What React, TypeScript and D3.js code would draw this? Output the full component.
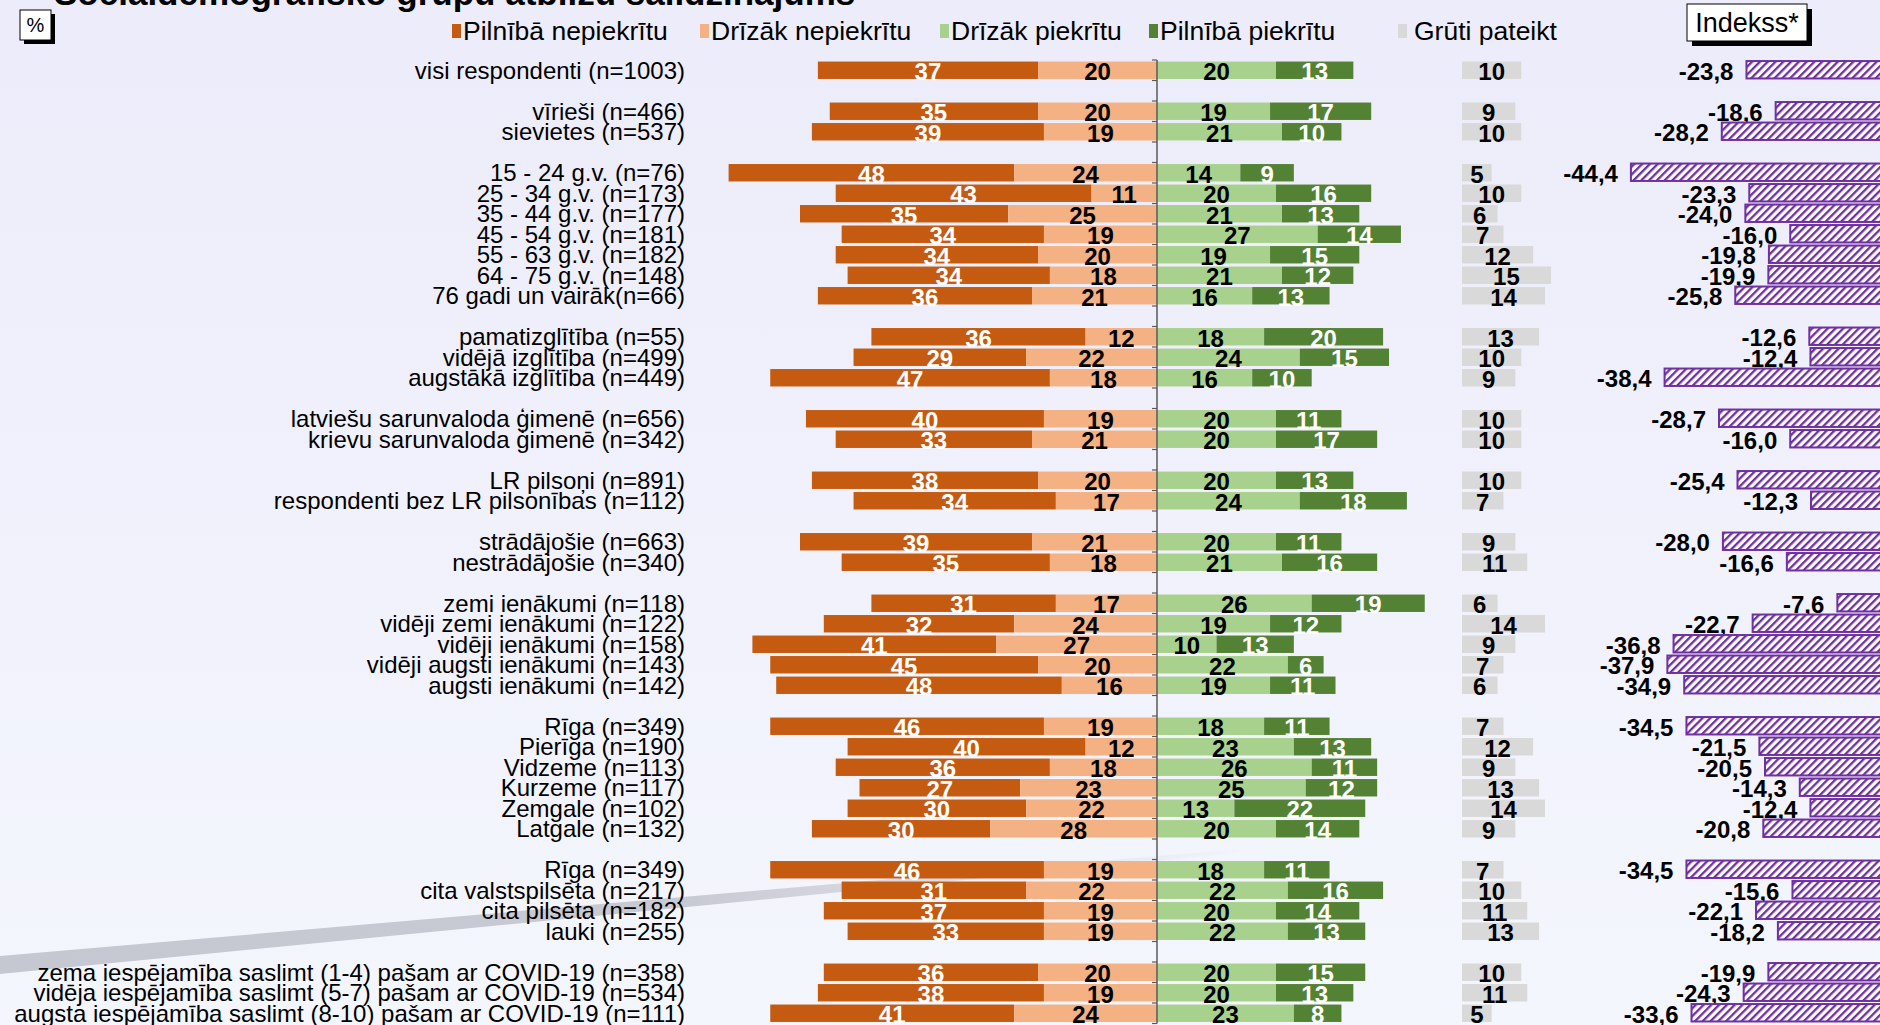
import React from "react";
import * as d3 from "d3";

const categories = [
  "visi respondenti (n=1003)",
  "vīrieši (n=466)",
  "sievietes (n=537)",
  "15 - 24 g.v. (n=76)",
  "25 - 34 g.v. (n=173)",
  "35 - 44 g.v. (n=177)",
  "45 - 54 g.v. (n=181)",
  "55 - 63 g.v. (n=182)",
  "64 - 75 g.v. (n=148)",
  "76 gadi un vairāk(n=66)",
  "pamatizglītība (n=55)",
  "vidējā izglītība (n=499)",
  "augstākā izglītība (n=449)",
  "latviešu sarunvaloda ģimenē (n=656)",
  "krievu sarunvaloda ģimenē (n=342)",
  "LR pilsoņi (n=891)",
  "respondenti bez LR pilsonības (n=112)",
  "strādājošie (n=663)",
  "nestrādājošie (n=340)",
  "zemi ienākumi (n=118)",
  "vidēji zemi ienākumi (n=122)",
  "vidēji ienākumi (n=158)",
  "vidēji augsti ienākumi (n=143)",
  "augsti ienākumi (n=142)",
  "Rīga (n=349)",
  "Pierīga (n=190)",
  "Vidzeme (n=113)",
  "Kurzeme (n=117)",
  "Zemgale (n=102)",
  "Latgale (n=132)",
  "Rīga (n=349)",
  "cita valstspilsēta (n=217)",
  "cita pilsēta (n=182)",
  "lauki (n=255)",
  "zema iespējamība saslimt (1-4) pašam ar COVID-19 (n=358)",
  "vidēja iespējamība saslimt (5-7) pašam ar COVID-19 (n=534)",
  "augsta iespējamība saslimt (8-10) pašam ar COVID-19 (n=111)",
];

const groupSizes = [1, 2, 7, 3, 2, 2, 2, 5, 6, 4, 3];

const pilnibaNepiekritu = [37, 35, 39, 48, 43, 35, 34, 34, 34, 36, 36, 29, 47, 40, 33, 38, 34, 39, 35, 31, 32, 41, 45, 48, 46, 40, 36, 27, 30, 30, 46, 31, 37, 33, 36, 38, 41];
const drizakNepiekritu = [20, 20, 19, 24, 11, 25, 19, 20, 18, 21, 12, 22, 18, 19, 21, 20, 17, 21, 18, 17, 24, 27, 20, 16, 19, 12, 18, 23, 22, 28, 19, 22, 19, 19, 20, 19, 24];
const drizakPiekritu = [20, 19, 21, 14, 20, 21, 27, 19, 21, 16, 18, 24, 16, 20, 20, 20, 24, 20, 21, 26, 19, 10, 22, 19, 18, 23, 26, 25, 13, 20, 18, 22, 20, 22, 20, 20, 23];
const pilnibaPiekritu = [13, 17, 10, 9, 16, 13, 14, 15, 12, 13, 20, 15, 10, 11, 17, 13, 18, 11, 16, 19, 12, 13, 6, 11, 11, 13, 11, 12, 22, 14, 11, 16, 14, 13, 15, 13, 8];
const grutiPateikt = [10, 9, 10, 5, 10, 6, 7, 12, 15, 14, 13, 10, 9, 10, 10, 10, 7, 9, 11, 6, 14, 9, 7, 6, 7, 12, 9, 13, 14, 9, 7, 10, 11, 13, 10, 11, 5];
const indekss = [-23.8, -18.6, -28.2, -44.4, -23.3, -24.0, -16.0, -19.8, -19.9, -25.8, -12.6, -12.4, -38.4, -28.7, -16.0, -25.4, -12.3, -28.0, -16.6, -7.6, -22.7, -36.8, -37.9, -34.9, -34.5, -21.5, -20.5, -14.3, -12.4, -20.8, -34.5, -15.6, -22.1, -18.2, -19.9, -24.3, -33.6];

const legendLabels = ["Pilnībā nepiekrītu", "Drīzāk nepiekrītu", "Drīzāk piekrītu", "Pilnībā piekrītu", "Grūti pateikt"];
const title = "Sociāldemogrāfisko grupu atbilžu salīdzinājums";

// layout / style constants
const W = 1880;
const H = 1025;
const COLORS = ["#c55a11", "#f4b183", "#a9d18e", "#548235", "#d9d9d9"];
const LABEL_COLORS = ["#ffffff", "#000000", "#000000", "#ffffff", "#000000"];
const PURPLE = "#7030a0";
const legendX = [452, 700, 940, 1149, 1398];
const FONT = "'Liberation Sans', Arial, sans-serif";

export default function App() {
  const slots: number[] = [];
  let s = 0;
  groupSizes.forEach((g, gi) => {
    for (let j = 0; j < g; j++) {
      slots.push(s);
      s++;
    }
    if (gi < groupSizes.length - 1) s++;
  });
  const nSlots = s;

  const y = d3
    .scaleBand<number>()
    .domain(d3.range(nSlots))
    .range([60, 60 + nSlots * 20.5])
    .paddingInner(0.15)
    .paddingOuter(0.075);
  const bw = y.bandwidth();

  const k = 5.95;
  const x0 = 1157;
  const x = d3.scaleLinear().domain([-100, 100]).range([x0 - 100 * k, x0 + 100 * k]);
  const xG = d3.scaleLinear().domain([0, 20]).range([1462, 1462 + 20 * 5.93]);
  const xI = d3.scaleLinear().domain([-50, 0]).range([W - 50 * 5.61, W]);

  const fmt = (v: number) => v.toFixed(1).replace(".", ",");

  const rows = categories.map((c, i) => {
    const pn = pilnibaNepiekritu[i];
    const dn = drizakNepiekritu[i];
    const dp = drizakPiekritu[i];
    const pp = pilnibaPiekritu[i];
    const segs = [
      { a: -(pn + dn), b: -dn, v: pn, c: 0 },
      { a: -dn, b: 0, v: dn, c: 1 },
      { a: 0, b: dp, v: dp, c: 2 },
      { a: dp, b: dp + pp, v: pp, c: 3 },
    ];
    return { c, i, slot: slots[i], segs, g: grutiPateikt[i], idx: indekss[i] };
  });

  const bandEdges = d3.range(nSlots + 1).map((j) => 60 + j * y.step());

  return (
    <div style={{ position: "fixed", left: 0, top: 0, width: W, height: H }}>
      <svg width={W} height={H} style={{ display: "block", fontFamily: FONT }}>
        <defs>
          <linearGradient id="bg" x1="0" y1="0" x2="0" y2="1">
            <stop offset="0" stopColor="#ececfa" />
            <stop offset="1" stopColor="#f4f6fd" />
          </linearGradient>
          <linearGradient id="band" x1="0" y1="0" x2="1" y2="0">
            <stop offset="0" stopColor="#c6c8d1" stopOpacity="1" />
            <stop offset="0.55" stopColor="#c6c8d1" stopOpacity="0.95" />
            <stop offset="1" stopColor="#c6c8d1" stopOpacity="0" />
          </linearGradient>
          <pattern id="hatch" patternUnits="userSpaceOnUse" width="5.5" height="5.5" patternTransform="rotate(45)">
            <rect width="5.5" height="5.5" fill="#ffffff" />
            <rect width="2.3" height="5.5" fill={PURPLE} />
          </pattern>
        </defs>
        <rect width={W} height={H} fill="url(#bg)" />
        <polygon points="0,956 0,974 1250,852 1250,848" fill="url(#band)" />

        <text x={54} y={5} fontSize={35} fontWeight="bold" fill="#000">
          {title}
        </text>

        <rect x={24} y={14} width={31} height={30} fill="#000" />
        <rect x={20} y={10} width={31} height={30} fill="#fff" stroke="#000" strokeWidth={1} />
        <text x={35.5} y={32} fontSize={20} textAnchor="middle">%</text>

        <rect x={1692} y={9} width={120} height={37} fill="#000" />
        <rect x={1687} y={4} width={120} height={37} fill="#fff" stroke="#000" strokeWidth={1} />
        <text x={1747} y={32} fontSize={27} textAnchor="middle">Indekss*</text>

        {legendLabels.map((l, i) => (
          <g key={l}>
            <rect x={legendX[i]} y={24} width={9} height={14} fill={COLORS[i]} />
            <text x={legendX[i] + (i === 4 ? 16 : 11)} y={40} fontSize={26.5} fill="#000">
              {l}
            </text>
          </g>
        ))}

        {rows.map((r) => (
          <text
            key={"c" + r.i}
            x={685}
            y={(y(r.slot) as number) + bw / 2}
            dy="0.36em"
            fontSize={24}
            textAnchor="end"
            fill="#000"
          >
            {r.c}
          </text>
        ))}

        {rows.map((r) => (
          <g key={"b" + r.i}>
            {r.segs.map((sg, j) => (
              <rect
                key={j}
                x={x(sg.a)}
                y={y(r.slot)}
                width={x(sg.b) - x(sg.a)}
                height={bw}
                fill={COLORS[sg.c]}
              />
            ))}
          </g>
        ))}
        {rows.map((r) => (
          <g key={"l" + r.i}>
            {r.segs.map((sg, j) => (
              <text
                key={j}
                x={(x(sg.a) + x(sg.b)) / 2}
                y={(y(r.slot) as number) + bw / 2 + 1.5}
                dy="0.36em"
                fontSize={24}
                fontWeight="bold"
                textAnchor="middle"
                fill={LABEL_COLORS[sg.c]}
              >
                {sg.v}
              </text>
            ))}
          </g>
        ))}

        <line x1={x0} x2={x0} y1={bandEdges[0]} y2={bandEdges[nSlots]} stroke="#5a5a5a" strokeWidth={1.5} />
        {bandEdges.map((e, j) => (
          <line key={j} x1={x0 - 5} x2={x0} y1={e} y2={e} stroke="#5a5a5a" strokeWidth={1.2} />
        ))}

        {rows.map((r) => (
          <g key={"g" + r.i}>
            <rect x={xG(0)} y={y(r.slot)} width={xG(r.g) - xG(0)} height={bw} fill={COLORS[4]} />
            <text
              x={(xG(0) + xG(r.g)) / 2}
              y={(y(r.slot) as number) + bw / 2 + 1.5}
              dy="0.36em"
              fontSize={24}
              fontWeight="bold"
              textAnchor="middle"
              fill="#000"
            >
              {r.g}
            </text>
          </g>
        ))}

        {rows.map((r) => (
          <g key={"i" + r.i}>
            <rect
              x={xI(r.idx)}
              y={(y(r.slot) as number) - 0.5}
              width={xI(0) - xI(r.idx) + 4}
              height={bw}
              fill="url(#hatch)"
              stroke={PURPLE}
              strokeWidth={2}
            />
            <text
              x={xI(r.idx) - 13}
              y={(y(r.slot) as number) + bw / 2 + 1}
              dy="0.36em"
              fontSize={24}
              fontWeight="bold"
              textAnchor="end"
              fill="#000"
            >
              {fmt(r.idx)}
            </text>
          </g>
        ))}
      </svg>
    </div>
  );
}
